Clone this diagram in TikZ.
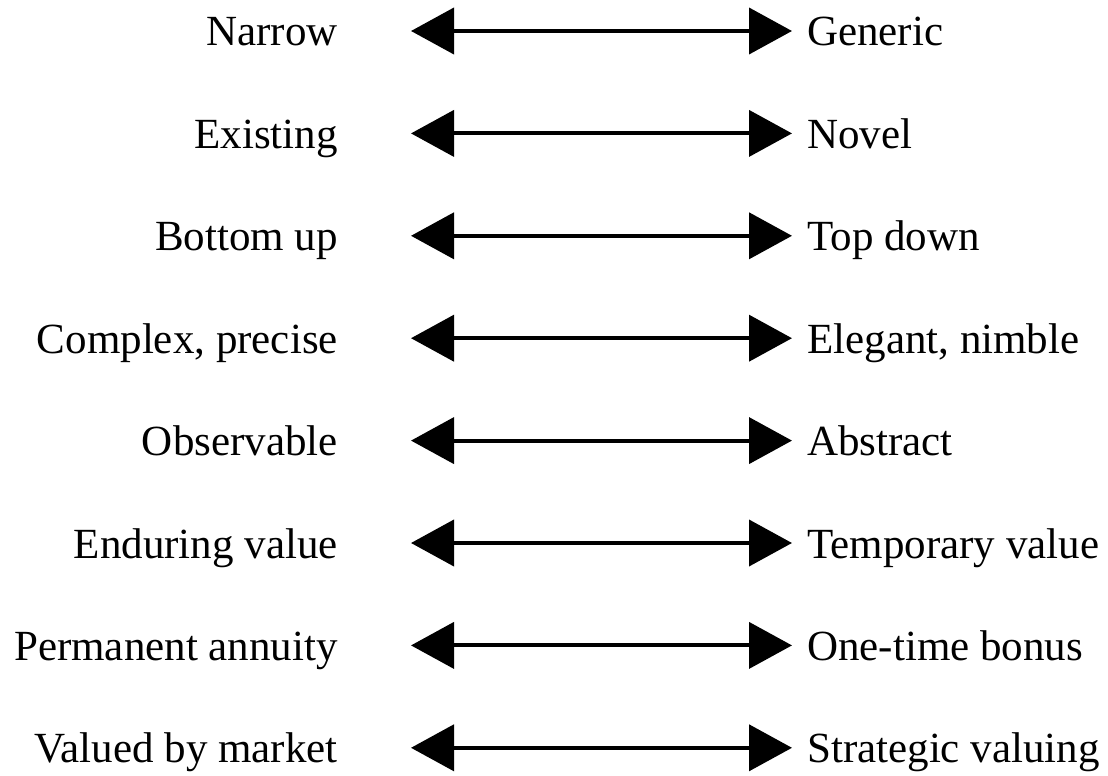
\documentclass[tikz,border=0pt]{standalone}
\usepackage{fontspec}
\setmainfont{Liberation Serif}
\usetikzlibrary{arrows.meta}
\begin{document}
\begin{tikzpicture}[x=1pt,y=-1pt,
  lefttext/.style={anchor=base east,inner sep=0pt,font=\fontsize{43}{50}\selectfont},
  righttext/.style={anchor=base west,inner sep=0pt,font=\fontsize{43}{50}\selectfont},
  dblarrow/.style={line width=4pt,{Triangle[length=43pt,width=46pt]}-{Triangle[length=43pt,width=46pt]}}]
\useasboundingbox (0,0) rectangle (1108,776);
\foreach \i/\l/\r in {0/Narrow/Generic,1/Existing/Novel,2/Bottom up/Top down,3/{Complex, precise}/{Elegant, nimble},4/Observable/Abstract,5/Enduring value/Temporary value,6/Permanent annuity/One-time bonus,7/Valued by market/Strategic valuing}{
  \pgfmathsetmacro{\yy}{31+102.4*\i}
  \node[lefttext] (L\i) at (338,\yy+15) {\l};
  \node[righttext] (R\i) at (807,\yy+15) {\r};
  \coordinate (A\i) at (411,\yy);
  \coordinate (B\i) at (792,\yy);
  \draw[dblarrow] (A\i) -- (B\i);
}
\end{tikzpicture}
\end{document}
